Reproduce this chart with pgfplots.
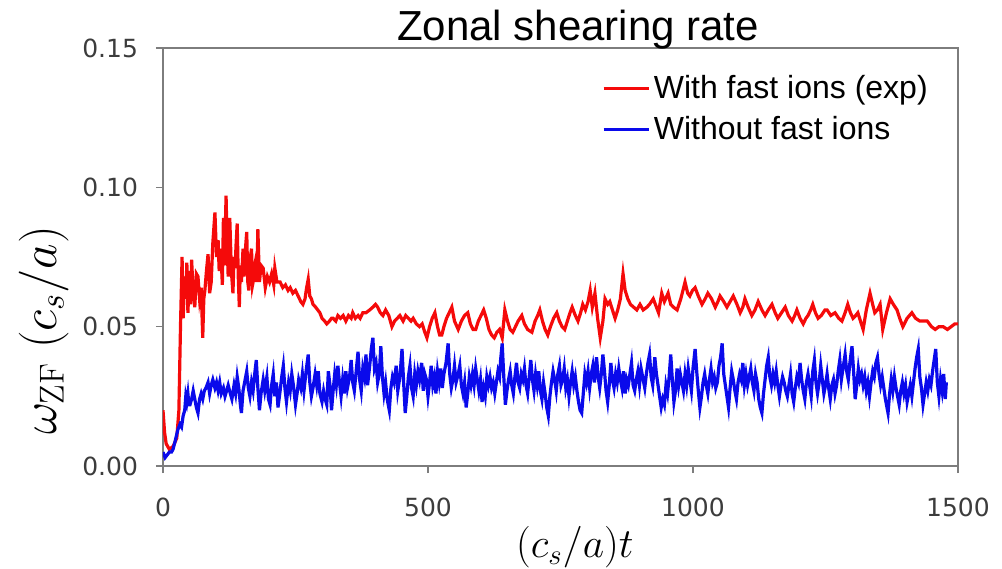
\documentclass[border=0pt]{standalone}
\usepackage{pgfplots}
\pgfplotsset{compat=1.18}
\usepackage{pgfplotstable}
\usepackage[no-math]{fontspec}
\setmainfont{Liberation Sans}
\newfontfamily\dejavu{DejaVu Sans}
\definecolor{frame}{RGB}{125,125,125}
\definecolor{ticktext}{RGB}{60,60,60}
\definecolor{myred}{RGB}{245,10,10}
\definecolor{myblue}{RGB}{10,10,235}

\pgfplotstableread{
t v
0 0.020
3 0.012
6 0.008
12 0.006
19 0.007
26 0.010
30 0.020
33 0.050
36 0.075
38 0.053
41 0.068
43 0.060
45 0.073
47 0.055
50 0.070
52 0.058
54 0.074
57 0.062
60 0.057
63 0.069
66 0.068
69 0.060
72 0.064
75 0.046
77 0.060
79 0.063
82 0.070
85 0.076
88 0.062
91 0.066
94 0.080
98 0.091
101 0.075
104 0.081
106 0.070
109 0.078
112 0.065
114 0.089
116 0.072
119 0.097
121 0.080
123 0.068
126 0.089
129 0.070
132 0.062
134 0.075
136 0.071
138 0.080
140 0.087
142 0.068
144 0.057
146 0.072
148 0.066
151 0.078
153 0.068
156 0.079
158 0.084
160 0.066
162 0.063
165 0.075
167 0.078
169 0.065
171 0.067
173 0.072
175 0.074
177 0.066
179 0.085
182 0.066
185 0.072
189 0.071
193 0.064
197 0.068
201 0.066
205 0.069
209 0.065
211 0.071
215 0.066
221 0.066
226 0.064
231 0.065
236 0.063
240 0.064
245 0.062
250 0.063
255 0.061
260 0.059
264 0.058
268 0.060
271 0.064
274 0.067
277 0.061
280 0.060
283 0.058
288 0.057
292 0.056
296 0.055
300 0.053
305 0.052
309 0.051
314 0.052
318 0.053
321 0.053
326 0.052
330 0.054
335 0.053
340 0.054
345 0.052
350 0.054
355 0.053
358 0.055
363 0.053
368 0.054
372 0.053
377 0.055
383 0.055
390 0.056
396 0.057
401 0.058
405 0.057
410 0.055
415 0.054
420 0.056
426 0.054
432 0.050
437 0.052
442 0.053
447 0.054
453 0.052
458 0.054
463 0.053
468 0.052
472 0.053
478 0.051
484 0.050
489 0.051
494 0.048
498 0.046
503 0.050
508 0.053
513 0.055
518 0.050
522 0.047
526 0.047
530 0.050
535 0.053
540 0.055
545 0.057
550 0.052
557 0.049
563 0.052
569 0.054
575 0.055
580 0.051
585 0.049
590 0.049
595 0.052
600 0.054
605 0.056
610 0.053
615 0.049
620 0.047
625 0.046
630 0.048
635 0.049
640 0.046
645 0.056
650 0.052
655 0.049
660 0.048
665 0.050
670 0.052
677 0.054
682 0.051
688 0.049
696 0.048
702 0.052
707 0.054
711 0.056
716 0.052
721 0.049
726 0.047
731 0.050
737 0.053
743 0.055
748 0.052
753 0.050
758 0.049
763 0.052
768 0.055
772 0.057
778 0.054
783 0.052
788 0.055
792 0.058
797 0.056
802 0.059
806 0.063
810 0.057
815 0.062
820 0.053
825 0.046
830 0.052
834 0.060
839 0.058
843 0.059
848 0.056
853 0.053
858 0.056
863 0.060
868 0.069
872 0.063
877 0.060
882 0.058
888 0.057
894 0.056
900 0.058
906 0.056
913 0.057
918 0.058
925 0.060
931 0.057
935 0.055
941 0.062
946 0.059
953 0.062
958 0.058
963 0.057
970 0.056
977 0.060
985 0.066
990 0.062
994 0.061
999 0.063
1004 0.064
1010 0.061
1017 0.058
1023 0.060
1028 0.062
1035 0.060
1042 0.057
1047 0.059
1051 0.061
1058 0.059
1064 0.057
1070 0.059
1076 0.061
1083 0.058
1089 0.055
1094 0.057
1098 0.060
1104 0.057
1111 0.054
1117 0.056
1123 0.059
1130 0.056
1136 0.054
1142 0.056
1149 0.058
1155 0.055
1160 0.053
1167 0.055
1174 0.057
1180 0.054
1187 0.052
1192 0.054
1196 0.056
1202 0.053
1208 0.051
1213 0.053
1217 0.054
1222 0.056
1226 0.058
1231 0.055
1236 0.053
1242 0.054
1249 0.056
1253 0.056
1260 0.054
1268 0.055
1275 0.053
1281 0.052
1287 0.055
1292 0.058
1297 0.055
1302 0.053
1307 0.054
1311 0.055
1316 0.052
1321 0.049
1327 0.056
1334 0.062
1339 0.058
1343 0.055
1348 0.056
1353 0.058
1358 0.049
1365 0.055
1372 0.060
1378 0.058
1385 0.056
1390 0.053
1396 0.050
1404 0.053
1413 0.055
1420 0.053
1428 0.052
1435 0.052
1442 0.052
1450 0.050
1457 0.049
1464 0.050
1472 0.050
1480 0.049
1487 0.050
1494 0.051
1500 0.051
}\redtab

\pgfplotstableread{
t v
0 0.005
4 0.003
8 0.004
12 0.005
16 0.005
19 0.006
23 0.009
28 0.013
32 0.015
35 0.014
38 0.018
41 0.020
43 0.025
45 0.023
47 0.026
49 0.022
51 0.022
54 0.024
57 0.027
60 0.024
63 0.021
66 0.019
69 0.024
72 0.026
75 0.024
78 0.027
81 0.028
85 0.030
88 0.026
91 0.029
94 0.031
98 0.028
101 0.030
104 0.027
107 0.030
110 0.026
114 0.028
117 0.025
120 0.027
123 0.029
127 0.026
130 0.024
134 0.029
137 0.026
140 0.032
143 0.028
146 0.022
148 0.019
151 0.027
154 0.030
158 0.034
161 0.028
164 0.025
167 0.030
170 0.027
173 0.033
176 0.038
179 0.028
182 0.020
185 0.026
189 0.031
192 0.027
196 0.032
199 0.024
202 0.022
205 0.029
208 0.033
211 0.025
214 0.030
217 0.021
221 0.027
224 0.032
227 0.036
230 0.028
233 0.023
237 0.030
240 0.027
243 0.033
246 0.029
250 0.022
253 0.026
256 0.031
260 0.028
263 0.033
266 0.027
270 0.034
274 0.040
277 0.030
280 0.025
283 0.028
287 0.033
290 0.029
293 0.034
296 0.026
300 0.023
303 0.027
306 0.024
309 0.022
312 0.034
315 0.029
318 0.020
321 0.027
324 0.033
327 0.029
330 0.036
333 0.030
336 0.025
339 0.031
342 0.026
345 0.034
348 0.028
352 0.032
355 0.038
358 0.030
361 0.027
364 0.033
368 0.041
371 0.031
374 0.027
377 0.035
380 0.032
383 0.040
386 0.029
390 0.036
393 0.042
396 0.046
399 0.035
402 0.037
405 0.030
408 0.033
411 0.043
414 0.032
417 0.026
420 0.030
423 0.024
427 0.020
430 0.028
433 0.032
436 0.030
440 0.036
443 0.027
447 0.032
451 0.042
454 0.030
457 0.019
460 0.025
463 0.032
466 0.036
469 0.028
472 0.025
475 0.033
478 0.029
481 0.034
484 0.031
488 0.037
491 0.027
494 0.033
497 0.031
500 0.025
503 0.030
506 0.036
509 0.029
512 0.032
515 0.026
518 0.034
521 0.030
524 0.035
527 0.028
530 0.033
534 0.037
538 0.044
541 0.033
544 0.028
547 0.031
550 0.036
553 0.030
557 0.033
560 0.036
563 0.029
566 0.026
569 0.030
572 0.021
575 0.026
578 0.032
581 0.029
584 0.033
587 0.029
590 0.035
593 0.031
596 0.027
599 0.031
602 0.023
605 0.028
608 0.025
611 0.032
614 0.029
617 0.032
620 0.028
623 0.030
626 0.026
629 0.030
632 0.034
635 0.032
637 0.038
640 0.044
643 0.032
646 0.022
649 0.027
652 0.031
655 0.034
658 0.029
661 0.026
664 0.032
667 0.037
670 0.030
673 0.028
676 0.033
679 0.031
682 0.035
685 0.029
688 0.026
691 0.032
694 0.038
697 0.031
700 0.027
703 0.033
706 0.029
709 0.034
712 0.027
715 0.024
718 0.030
721 0.026
724 0.021
727 0.018
730 0.025
733 0.030
736 0.034
739 0.031
742 0.027
745 0.033
748 0.036
751 0.029
754 0.031
757 0.035
760 0.028
763 0.031
766 0.025
769 0.030
772 0.034
775 0.029
778 0.032
781 0.027
784 0.023
787 0.020
790 0.019
793 0.026
796 0.033
799 0.030
802 0.034
805 0.028
808 0.033
811 0.036
814 0.030
818 0.039
821 0.032
824 0.028
827 0.033
830 0.040
833 0.034
836 0.027
839 0.023
842 0.029
845 0.037
848 0.031
851 0.028
854 0.033
857 0.030
860 0.035
863 0.031
866 0.028
869 0.034
872 0.026
875 0.031
878 0.029
881 0.033
884 0.037
887 0.029
890 0.027
893 0.031
896 0.034
899 0.029
902 0.035
906 0.031
909 0.028
912 0.033
915 0.037
918 0.040
921 0.032
924 0.029
928 0.039
931 0.033
934 0.029
937 0.025
940 0.021
943 0.024
946 0.022
949 0.029
952 0.026
955 0.032
958 0.040
961 0.031
964 0.023
967 0.027
970 0.035
973 0.029
976 0.033
979 0.030
982 0.027
985 0.033
988 0.029
991 0.035
994 0.031
997 0.027
1000 0.035
1004 0.042
1007 0.034
1010 0.027
1013 0.021
1016 0.025
1019 0.030
1022 0.033
1025 0.029
1028 0.026
1031 0.031
1034 0.035
1037 0.030
1040 0.032
1043 0.028
1046 0.030
1049 0.036
1052 0.039
1055 0.044
1058 0.033
1061 0.029
1064 0.025
1067 0.021
1070 0.028
1073 0.034
1076 0.031
1079 0.027
1082 0.024
1085 0.030
1088 0.033
1091 0.031
1094 0.037
1097 0.029
1100 0.033
1103 0.029
1106 0.032
1109 0.035
1112 0.030
1115 0.027
1118 0.033
1121 0.030
1124 0.024
1127 0.021
1130 0.019
1133 0.026
1136 0.031
1139 0.036
1142 0.039
1145 0.032
1148 0.029
1151 0.033
1154 0.030
1157 0.034
1160 0.029
1163 0.025
1166 0.029
1169 0.032
1172 0.030
1175 0.027
1178 0.025
1181 0.029
1184 0.033
1187 0.026
1190 0.023
1193 0.028
1196 0.032
1199 0.030
1202 0.037
1205 0.031
1208 0.027
1211 0.024
1214 0.030
1217 0.033
1220 0.029
1223 0.025
1226 0.034
1229 0.038
1232 0.030
1235 0.026
1238 0.030
1241 0.036
1244 0.031
1247 0.026
1250 0.029
1253 0.033
1256 0.028
1259 0.024
1262 0.029
1265 0.031
1268 0.026
1271 0.029
1274 0.034
1277 0.038
1280 0.031
1283 0.035
1287 0.040
1290 0.034
1293 0.031
1296 0.037
1300 0.043
1303 0.034
1306 0.024
1309 0.029
1312 0.035
1315 0.031
1318 0.033
1321 0.029
1324 0.032
1327 0.027
1330 0.030
1333 0.025
1336 0.030
1339 0.034
1342 0.032
1345 0.037
1348 0.039
1351 0.033
1354 0.029
1357 0.032
1360 0.028
1363 0.024
1366 0.021
1368 0.019
1371 0.026
1374 0.031
1377 0.027
1380 0.032
1383 0.028
1386 0.025
1389 0.022
1392 0.027
1395 0.030
1398 0.026
1401 0.029
1404 0.023
1407 0.026
1410 0.029
1413 0.025
1416 0.030
1419 0.035
1422 0.039
1425 0.042
1428 0.032
1431 0.028
1434 0.022
1437 0.026
1440 0.030
1443 0.027
1446 0.031
1449 0.029
1452 0.034
1455 0.038
1458 0.042
1461 0.030
1464 0.025
1467 0.031
1470 0.027
1473 0.033
1476 0.024
1478 0.030
}\bluetab

\begin{document}
\begin{tikzpicture}
\path[use as bounding box] (-81.5pt,-51pt) rectangle (419.5pt,233pt);
\begin{axis}[
  at={(0,0)}, anchor=south west,
  scale only axis,
  width=397.5pt, height=209pt,
  xmin=0, xmax=1500, ymin=0, ymax=0.15,
  xtick={0,500,1000,1500},
  xticklabels={0,500,1000,1500},
  ytick={0,0.05,0.10,0.15},
  yticklabels={0.00,0.05,0.10,0.15},
  tick align=outside,
  major tick length=3.5pt,
  minor tick num=0,
  axis line style={draw=frame, line width=1pt},
  tick style={draw=frame, line width=0.8pt},
  xtick pos=bottom, ytick pos=left,
  ticklabel style={font=\dejavu\fontsize{12.5}{15}\selectfont, text=ticktext},
  xticklabel style={yshift=-9pt},
  yticklabel style={xshift=-5.5pt},
  title={Zonal shearing rate},
  title style={font=\fontsize{21}{25}\selectfont, at={(axis description cs:0.522,1)}, anchor=base, yshift=-2pt},
  xlabel={$(c_s/a)t$},
  ylabel={$\omega_{\mathrm{ZF}}\;(c_s/a)$},
  xlabel style={font=\fontsize{21.5}{26}\selectfont, at={(axis description cs:0.518,-0.195)}, anchor=center},
  ylabel style={font=\fontsize{24}{28}\selectfont, at={(axis description cs:-0.15,0.325)}, anchor=center},
  legend style={draw=none, fill=none, at={(axis description cs:0.975,0.955)}, anchor=north east,
    font=\fontsize{16}{19}\selectfont, row sep=3.5pt,
    /tikz/every even column/.append style={column sep=0pt}},
  legend cell align=left,
  legend image code/.code={\draw[#1, line width=1.3pt] (0pt,0pt) -- (22.5pt,0pt);},
]
\addplot[color=myred, line width=1.6pt] table[x=t, y=v] {\redtab};
\addlegendentry{With fast ions (exp)}
\addplot[color=myblue, line width=1.6pt] table[x=t, y=v] {\bluetab};
\addlegendentry{Without fast ions}
\end{axis}
\end{tikzpicture}
\end{document}
